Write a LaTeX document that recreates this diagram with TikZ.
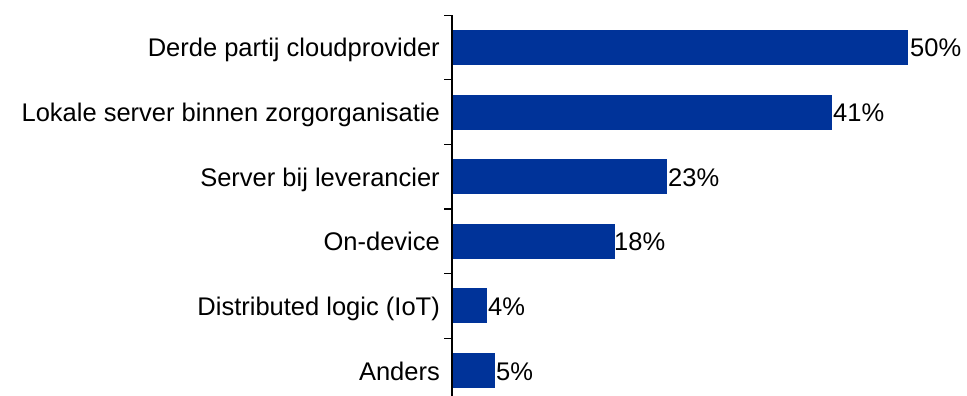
\documentclass[tikz,border=0pt]{standalone}
\usepackage{fontspec}
\setmainfont{Liberation Sans}
\definecolor{barblue}{RGB}{0,51,153}
\tikzset{
  catlabel/.style={anchor=base east,inner sep=0pt,font=\fontsize{25.5}{30}\selectfont},
  pctlabel/.style={anchor=base west,inner sep=0pt,font=\fontsize{25.5}{30}\selectfont},
  databar/.style={fill=barblue},
  axisline/.style={line width=1.3pt,black},
}
\begin{document}
\begin{tikzpicture}[x=1pt,y=-1pt]
\useasboundingbox (0,0) rectangle (967,396);
\fill[databar] (452,30) rectangle (908,65);
\fill[databar] (452,94.6) rectangle (832,129.6);
\fill[databar] (452,159.2) rectangle (667,194.2);
\fill[databar] (452,223.8) rectangle (615,258.8);
\fill[databar] (452,288.4) rectangle (487,323.4);
\fill[databar] (452,353) rectangle (495,388);
\node[catlabel] (cat1) at (440,57) {Derde partij cloudprovider};
\node[catlabel] (cat2) at (440,121.6) {Lokale server binnen zorgorganisatie};
\node[catlabel] (cat3) at (440,186.2) {Server bij leverancier};
\node[catlabel] (cat4) at (440,250.8) {On-device};
\node[catlabel] (cat5) at (440,315.4) {Distributed logic (IoT)};
\node[catlabel] (cat6) at (440,380) {Anders};
\node[pctlabel] (pct1) at (910,57) {50\%};
\node[pctlabel] (pct2) at (833,121.6) {41\%};
\node[pctlabel] (pct3) at (668,186.2) {23\%};
\node[pctlabel] (pct4) at (614,250.8) {18\%};
\node[pctlabel] (pct5) at (488,315.4) {4\%};
\node[pctlabel] (pct6) at (496,380) {5\%};
\draw[axisline] (452,15.2) -- (452,396);
\draw[axisline] (444,15.2) -- (452,15.2);
\draw[axisline] (444,79.8) -- (452,79.8);
\draw[axisline] (444,144.4) -- (452,144.4);
\draw[axisline] (444,209) -- (452,209);
\draw[axisline] (444,273.6) -- (452,273.6);
\draw[axisline] (444,338.2) -- (452,338.2);
\end{tikzpicture}
\end{document}
